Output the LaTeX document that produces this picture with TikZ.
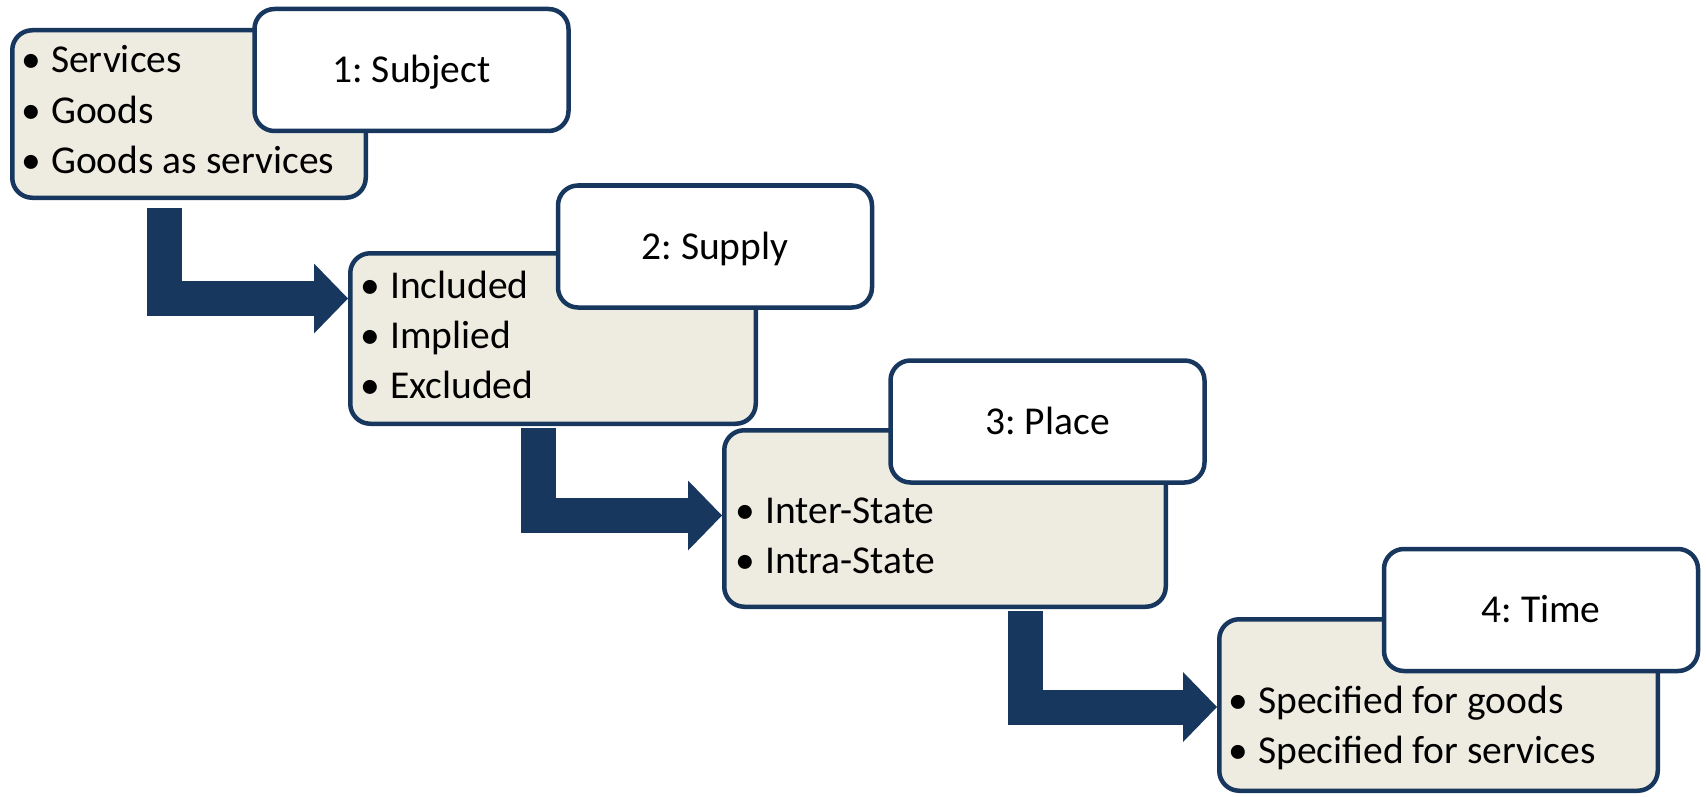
\documentclass[tikz,border=0pt]{standalone}
\usepackage{fontspec}
\setmainfont{Carlito}
\usetikzlibrary{arrows.meta}
\definecolor{navy}{HTML}{17375E}
\definecolor{paper}{HTML}{EEECE1}
\newcommand\itembullet{\llap{\makebox[40pt]{•}}}
\frenchspacing

\begin{document}
\begin{tikzpicture}[x=1pt,y=-1pt,
  panel/.style={draw=navy, line width=4.5pt, fill=paper, rounded corners=20pt, inner sep=0pt},
  tag/.style={draw=navy, line width=4.5pt, fill=white, rounded corners=20pt, inner sep=0pt,
    minimum width=314pt, minimum height=122pt, text height=25pt, text depth=0pt,
    font=\fontsize{39.5}{48}\selectfont},
  item/.style={anchor=base west, inner sep=0pt, font=\fontsize{39.5}{48}\selectfont},
  flow/.style={draw=navy, line width=35pt, line join=miter, line cap=butt,
    -{Triangle[length=34pt,width=70pt,line width=0pt]}}]
\useasboundingbox (0,0) rectangle (1706,797);

% step 1
\node[panel, minimum width=353.5pt, minimum height=167.5pt] (p1) at (189,114) {};
\node[item] (p1a) at (51,73)  {\itembullet Services};
\node[item] (p1b) at (51,124) {\itembullet Goods};
\node[item] (p1c) at (51,174) {\itembullet Goods as services};
\node[tag] (t1) at (411.5,70) {1: Subject};

% step 2
\node[panel, minimum width=405.5pt, minimum height=170.5pt] (p2) at (553,338.5) {};
\node[item] (p2a) at (390,298) {\itembullet Included};
\node[item] (p2b) at (390,348) {\itembullet Implied};
\node[item] (p2c) at (390,398) {\itembullet Excluded};
\node[tag] (t2) at (715,246.5) {2: Supply};

% step 3
\node[panel, minimum width=441.5pt, minimum height=176.5pt] (p3) at (945,518.5) {};
\node[item] (p3a) at (765,523) {\itembullet Inter-State};
\node[item] (p3b) at (765,573) {\itembullet Intra-State};
\node[tag] (t3) at (1047.5,421.5) {3: Place};

% step 4
\node[panel, minimum width=438.5pt, minimum height=171.5pt] (p4) at (1438.5,705) {};
\node[item] (p4a) at (1258,713) {\itembullet Specified for goods};
\node[item] (p4b) at (1258,763) {\itembullet Specified for services};
\node[tag] (t4) at (1541,610) {4: Time};

% elbow arrows between the steps
\coordinate (s1) at (164.5,208);  \coordinate (j1) at (164.5,298.5);
\coordinate (s2) at (538,428);    \coordinate (j2) at (538,515.5);
\coordinate (s3) at (1025.5,611); \coordinate (j3) at (1025.5,707);
\draw[flow] (s1) -- (j1) -- (j1 -| p2.west);
\draw[flow] (s2) -- (j2) -- (j2 -| p3.west);
\draw[flow] (s3) -- (j3) -- (j3 -| p4.west);
\end{tikzpicture}
\end{document}
